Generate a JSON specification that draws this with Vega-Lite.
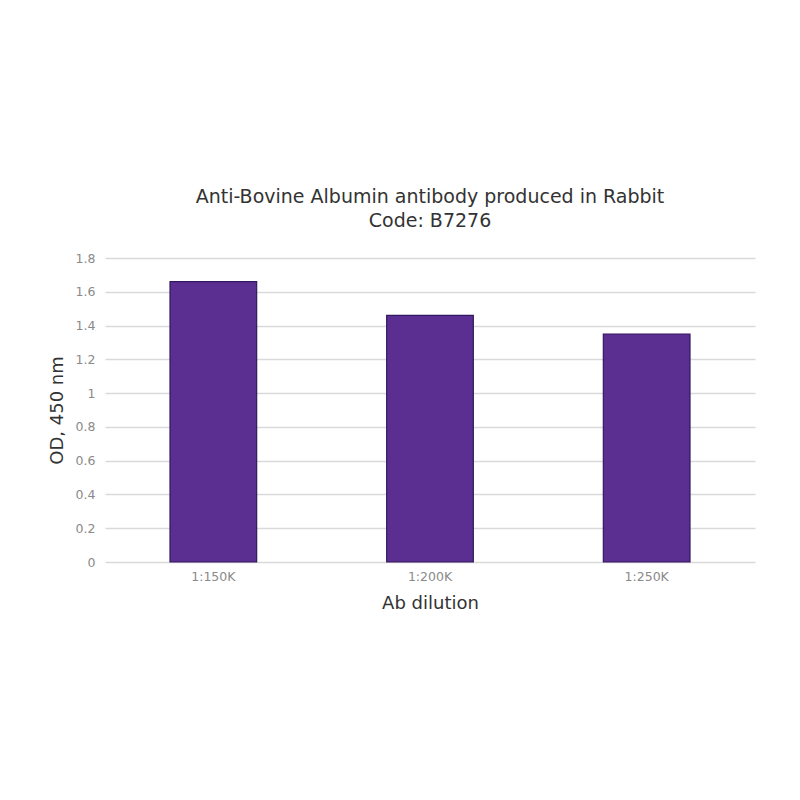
{
  "$schema": "https://vega.github.io/schema/vega-lite/v6.json",
  "autosize": "none",
  "width": 650,
  "height": 304,
  "padding": {"left": 105, "top": 258, "right": 45, "bottom": 238},
  "background": "white",
  "title": {
    "text": ["Anti-Bovine Albumin antibody produced in Rabbit", "Code: B7276"],
    "font": "DejaVu Sans",
    "fontSize": 19,
    "fontWeight": "normal",
    "color": "#333333",
    "anchor": "middle",
    "offset": 21,
    "lineHeight": 24
  },
  "data": {
    "values": [
      {"dilution": "1:150K", "od": 1.66},
      {"dilution": "1:200K", "od": 1.46},
      {"dilution": "1:250K", "od": 1.35}
    ]
  },
  "config": {
    "view": {"stroke": null},
    "axis": {"labelFont": "DejaVu Sans", "titleFont": "DejaVu Sans"}
  },
  "mark": {"type": "bar", "color": "#5b2f91", "stroke": "#33195f", "strokeWidth": 1.2},
  "encoding": {
    "x": {
      "field": "dilution",
      "type": "nominal",
      "sort": null,
      "scale": {"paddingInner": 0.6, "paddingOuter": 0.3},
      "axis": {
        "title": "Ab dilution",
        "titleFontSize": 18,
        "titleFontWeight": "normal",
        "titleColor": "#333333",
        "titlePadding": 12,
        "labelAngle": 0,
        "labelFontSize": 12.5,
        "labelColor": "#8a8a8a",
        "labelPadding": 8,
        "ticks": false,
        "domain": false
      }
    },
    "y": {
      "field": "od",
      "type": "quantitative",
      "scale": {"domain": [0, 1.8]},
      "axis": {
        "title": "OD, 450 nm",
        "titleFontSize": 18,
        "titleFontWeight": "normal",
        "titleColor": "#333333",
        "titlePadding": 9,
        "values": [0, 0.2, 0.4, 0.6, 0.8, 1, 1.2, 1.4, 1.6, 1.8],
        "format": "~g",
        "labelFontSize": 12.5,
        "labelColor": "#8a8a8a",
        "labelPadding": 10,
        "ticks": false,
        "domain": false,
        "gridColor": "#d9d9d9",
        "gridWidth": 1.5
      }
    }
  }
}
